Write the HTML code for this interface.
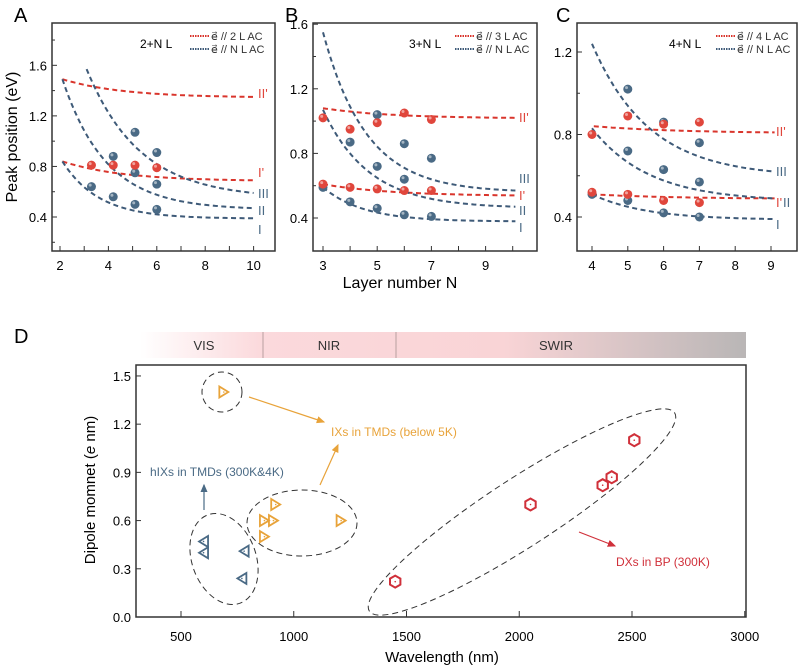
<!DOCTYPE html>
<html><head><meta charset="utf-8"><style>
html,body{margin:0;padding:0;background:#fff;}
svg{display:block;font-family:"Liberation Sans",sans-serif;}
</style></head><body>
<svg id="s" width="799" height="665" viewBox="0 0 799 665" xmlns="http://www.w3.org/2000/svg">
<defs>
<linearGradient id="bar" x1="0" x2="1" y1="0" y2="0">
<stop offset="0" stop-color="#fff"/>
<stop offset="0.2" stop-color="#fbd9dc"/>
<stop offset="0.6" stop-color="#f9d4d6"/>
<stop offset="1" stop-color="#b9b6b6"/>
</linearGradient>
<marker id="ao" markerWidth="8" markerHeight="8" refX="6" refY="3" orient="auto"><path d="M0,0 L7,3 L0,6 Z" fill="#e8a33a"/></marker>
<marker id="ab" markerWidth="8" markerHeight="8" refX="6" refY="3" orient="auto"><path d="M0,0 L7,3 L0,6 Z" fill="#4a6a85"/></marker>
<marker id="ar" markerWidth="8" markerHeight="8" refX="6" refY="3" orient="auto"><path d="M0,0 L7,3 L0,6 Z" fill="#d0303a"/></marker>
</defs>
<g id="g"></g>
<text x="14" y="22" font-size="20">A</text>
<text x="285" y="22" font-size="20">B</text>
<text x="556" y="22" font-size="20">C</text>
<text x="14" y="343" font-size="20">D</text>
<text x="12" y="137" font-size="16" transform="rotate(-90 12 137)" text-anchor="middle" dy="5">Peak position (eV)</text>
<text x="400" y="288" font-size="16" text-anchor="middle">Layer number N</text>
<rect x="140" y="332" width="606" height="26" fill="url(#bar)"/>
<line x1="263" y1="332" x2="263" y2="358" stroke="#b8a0a0"/>
<line x1="396" y1="332" x2="396" y2="358" stroke="#b8a0a0"/>
<text x="204" y="350" font-size="13" text-anchor="middle" fill="#333">VIS</text>
<text x="329" y="350" font-size="13" text-anchor="middle" fill="#333">NIR</text>
<text x="556" y="350" font-size="13" text-anchor="middle" fill="#333">SWIR</text>
<rect x="136" y="365" width="610" height="252" fill="none" stroke="#333" stroke-width="1.5"/>
<text x="90" y="490" font-size="15" transform="rotate(-90 90 490)" text-anchor="middle" dy="5">Dipole momnet (<tspan font-style="italic">e</tspan> nm)</text>
<text x="442" y="662" font-size="15" text-anchor="middle">Wavelength (nm)</text>
<line x1="249" y1="397" x2="324" y2="422" stroke="#e8a33a" stroke-width="1.2" marker-end="url(#ao)"/>
<line x1="320" y1="485" x2="338" y2="445" stroke="#e8a33a" stroke-width="1.2" marker-end="url(#ao)"/>
<line x1="204" y1="510" x2="204" y2="485" stroke="#4a6a85" stroke-width="1.2" marker-end="url(#ab)"/>
<line x1="579" y1="532" x2="615" y2="546" stroke="#d0303a" stroke-width="1.2" marker-end="url(#ar)"/>
<text x="331" y="436" font-size="12" fill="#e8a33a">IXs in TMDs (below 5K)</text>
<text x="150" y="476" font-size="12" fill="#4a6a85">hIXs in TMDs (300K&amp;4K)</text>
<text x="616" y="566" font-size="12" fill="#d0303a">DXs in BP (300K)</text>
<g fill="none" stroke="#333" stroke-width="1" stroke-dasharray="6,4">
<ellipse cx="222" cy="392" rx="20" ry="20"/>
<ellipse cx="224" cy="559" rx="32" ry="47" transform="rotate(-20 224 559)"/>
<ellipse cx="302" cy="523" rx="55" ry="33"/>
<ellipse cx="522" cy="512" rx="182" ry="34" transform="rotate(-33 522 512)"/>
</g>
</svg>
<script>
var g=document.getElementById('g'),NS="http://www.w3.org/2000/svg";
function el(t,a,txt){var e=document.createElementNS(NS,t);for(var k in a)e.setAttribute(k,a[k]);if(txt!=null)e.textContent=txt;g.appendChild(e);return e;}
var RED="#d9352c",BLUE="#3e5a78",RL="#e0463c",BL="#4a6a85";
function panel(P){
  var X=function(n){return P.x0+(n-P.n0)*P.sx;},Y=function(v){return P.y0-(v-P.v0)*P.sy;};
  el('rect',{x:P.L,y:23,width:P.R-P.L,height:228,fill:'none',stroke:'#333','stroke-width':1.5});
  P.xt.forEach(function(n,i){el('line',{x1:X(n),x2:X(n),y1:251,y2:246,stroke:'#333'});if(P.xl[i])el('text',{x:X(n),y:270,'font-size':13,'text-anchor':'middle'},String(n));});
  P.yt.forEach(function(v){el('line',{x1:P.L,x2:P.L+5,y1:Y(v),y2:Y(v),stroke:'#333'});el('text',{x:P.L-5,y:Y(v)+5,'font-size':13,'text-anchor':'end'},v.toFixed(1));});
  P.ym.forEach(function(v){el('line',{x1:P.L,x2:P.L+3,y1:Y(v),y2:Y(v),stroke:'#333'});});
  P.curves.forEach(function(c){
    var n0=c[0],v0=c[1],n1=c[2],v1=c[3],t=c[4],col=c[5];
    var e=Math.exp(-(n1-n0)/t),b=(v0-v1)/(1-e),a=v0-b,d="";
    for(var i=0;i<=60;i++){var n=n0+(n1-n0)*i/60,v=a+b*Math.exp(-(n-n0)/t);d+=(i?"L":"M")+X(n).toFixed(1)+","+Y(v).toFixed(1);}
    el('path',{d:d,fill:'none',stroke:col,'stroke-width':2,'stroke-dasharray':'5,3.5'});
  });
  P.pts.forEach(function(p){var c=p[2]=='r'?RL:BL;el('circle',{cx:X(p[0]),cy:Y(p[1]),r:4.5,fill:c});el('circle',{cx:X(p[0])-1.3,cy:Y(p[1])-1.5,r:1.5,fill:'#fff',opacity:0.5});});
  P.labels.forEach(function(l){el('text',{x:l[0],y:l[1],'font-size':13,fill:l[3]=='r'?RL:BL},l[2]);});
  el('text',{x:P.lx,y:48,'font-size':12},P.tag);
  [[40,RED,P.ref],[53,BLUE,'N L AC']].forEach(function(q){
    el('line',{x1:P.lg,x2:P.lg+19,y1:q[0]-4,y2:q[0]-4,stroke:q[1],'stroke-width':2,'stroke-dasharray':'1.5,1'});
    el('text',{x:P.lg+21,y:q[0],'font-size':11,fill:'#333'},'e\u20D7 // '+q[2]);
  });
}
panel({L:52,R:275,x0:60,n0:2,sx:24.2,y0:217,v0:0.4,sy:126.4,xt:[2,3,4,5,6,7,8,9,10],xl:[1,0,1,0,1,0,1,0,1],yt:[1.6,1.2,0.8,0.4],ym:[1.8,1.4,1.0,0.6,0.2],
 curves:[[2.1,1.49,10,1.35,2.5,RED],[2.1,0.84,10,0.69,2.5,RED],[2.1,0.84,10,0.39,1.5,BLUE],[2.1,1.49,10,0.47,1.8,BLUE],[3.1,1.57,10,0.59,2.2,BLUE]],
 pts:[[3.3,0.64,'b'],[4.2,0.56,'b'],[4.2,0.88,'b'],[5.1,0.5,'b'],[5.1,0.75,'b'],[5.1,1.07,'b'],[6,0.46,'b'],[6,0.66,'b'],[6,0.91,'b'],[3.3,0.81,'r'],[4.2,0.81,'r'],[5.1,0.81,'r'],[6,0.79,'r']],
 labels:[[258,98,"II'",'r'],[258,177,"I'",'r'],[258,198,'III','b'],[258,215,'II','b'],[258,234,'I','b']],lx:140,tag:'2+N L',lg:190,ref:'2 L AC'});
panel({L:313,R:537,x0:323,n0:3,sx:27.1,y0:218,v0:0.4,sy:161.5,xt:[3,4,5,6,7,8,9,10],xl:[1,0,1,0,1,0,1,0],yt:[1.6,1.2,0.8,0.4],ym:[1.4,1.0,0.6],
 curves:[[3,1.08,10.1,1.02,2.5,RED],[3,0.61,10.1,0.54,2.5,RED],[3,0.59,10.1,0.38,1.5,BLUE],[3,1.07,10.1,0.47,1.7,BLUE],[3,1.55,10.1,0.57,1.6,BLUE]],
 pts:[[3,0.59,'b'],[4,0.5,'b'],[4,0.87,'b'],[5,0.46,'b'],[5,0.72,'b'],[5,1.04,'b'],[6,0.42,'b'],[6,0.64,'b'],[6,0.86,'b'],[7,0.41,'b'],[7,0.77,'b'],[3,1.02,'r'],[3,0.61,'r'],[4,0.95,'r'],[4,0.59,'r'],[5,0.99,'r'],[5,0.58,'r'],[6,1.05,'r'],[6,0.57,'r'],[7,1.01,'r'],[7,0.57,'r']],
 labels:[[519,122,"II'",'r'],[519,183,'III','b'],[519,200,"I'",'r'],[519,215,'II','b'],[519,232,'I','b']],lx:409,tag:'3+N L',lg:455,ref:'3 L AC'});
panel({L:577,R:797,x0:592,n0:4,sx:35.8,y0:217,v0:0.4,sy:206.25,xt:[4,5,6,7,8,9],xl:[1,1,1,1,1,1],yt:[1.2,0.8,0.4],ym:[1.0,0.6],
 curves:[[4.05,0.84,9.1,0.81,2.5,RED],[4,0.51,9.1,0.49,2.5,RED],[4,0.51,9.1,0.39,1.5,BLUE],[4,0.83,9.1,0.49,1.6,BLUE],[4,1.24,9.1,0.62,1.6,BLUE]],
 pts:[[4,0.51,'b'],[5,0.48,'b'],[5,0.72,'b'],[5,1.02,'b'],[6,0.42,'b'],[6,0.63,'b'],[6,0.86,'b'],[7,0.4,'b'],[7,0.57,'b'],[7,0.76,'b'],[4,0.8,'r'],[4,0.52,'r'],[5,0.89,'r'],[5,0.51,'r'],[6,0.85,'r'],[6,0.48,'r'],[7,0.86,'r'],[7,0.47,'r']],
 labels:[[776,136,"II'",'r'],[776,176,'III','b'],[776,207,"I'",'r'],[783,207,'II','b'],[776,229,'I','b']],lx:669,tag:'4+N L',lg:716,ref:'4 L AC'});
var DX=function(w){return 181+(w-500)*0.2255;},DY=function(v){return 617-v*160.7;};
[500,1000,1500,2000,2500,3000].forEach(function(w){el('line',{x1:DX(w),x2:DX(w),y1:617,y2:611,stroke:'#333'});el('text',{x:DX(w),y:641,'font-size':13,'text-anchor':'middle'},String(w));});
[0,0.3,0.6,0.9,1.2,1.5].forEach(function(v){el('line',{x1:136,x2:141,y1:DY(v),y2:DY(v),stroke:'#333'});el('text',{x:131,y:DY(v)+5,'font-size':13,'text-anchor':'end'},v.toFixed(1));});
function tri(w,v,dir,col){var x=DX(w),y=DY(v),s=4.5*dir;el('path',{d:'M'+(x+s)+','+y+' L'+(x-s)+','+(y-5.5)+' L'+(x-s)+','+(y+5.5)+' Z',fill:'none',stroke:col,'stroke-width':1.8});el('circle',{cx:x,cy:y,r:0.8,fill:col});}
[[690,1.4],[920,0.7],[870,0.6],[910,0.6],[870,0.5],[1210,0.6]].forEach(function(p){tri(p[0],p[1],1,'#e8a33a');});
[[600,0.47],[600,0.4],[780,0.41],[770,0.24]].forEach(function(p){tri(p[0],p[1],-1,'#4a6a85');});
[[1450,0.22],[2050,0.7],[2370,0.82],[2410,0.87],[2510,1.1]].forEach(function(p){var x=DX(p[0]),y=DY(p[1]),d='';for(var i=0;i<6;i++){var a=Math.PI/3*i+Math.PI/6;d+=(i?'L':'M')+(x+6*Math.cos(a)).toFixed(1)+','+(y+6*Math.sin(a)).toFixed(1);}el('path',{d:d+'Z',fill:'none',stroke:'#d0303a','stroke-width':2});el('circle',{cx:x,cy:y,r:0.8,fill:'#d0303a'});});
</script>
</body></html>
